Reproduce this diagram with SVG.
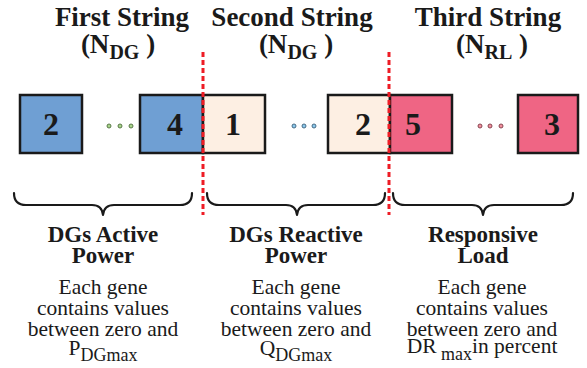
<svg xmlns="http://www.w3.org/2000/svg" width="587" height="368" viewBox="0 0 587 368">
  <style>
    text { font-family: "Liberation Serif", Tinos, "Times New Roman", "DejaVu Serif", serif; fill: #1a1a1a; text-anchor: middle; }
    .title { font-weight: bold; font-size: 27px; }
    .sub { font-size: 20px; }
    .num { font-weight: bold; font-size: 32px; }
    .head { font-weight: bold; font-size: 23px; }
    .desc { font-size: 21.5px; }
    .dsub { font-size: 18px; }
    .box { stroke: #1a1a1a; stroke-width: 2.5; }
    .blue { fill: #6f9fd3; }
    .peach { fill: #fdefe3; }
    .pink { fill: #ef6584; }
    .brace { fill: none; stroke: #1a1a1a; stroke-width: 2.2; stroke-linecap: round; stroke-linejoin: round; }
    .split { stroke: #ee1c25; stroke-width: 3; stroke-dasharray: 5 3; }
    .dot { stroke-width: 0.9; }
  </style>

  <!-- string titles -->
  <g id="title-first">
    <text class="title" x="122" y="26">First String</text>
    <text class="title" x="118" y="53">(N<tspan class="sub" dy="6">DG</tspan><tspan dy="-6"> )</tspan></text>
  </g>
  <g id="title-second">
    <text class="title" x="292" y="26">Second String</text>
    <text class="title" x="296" y="53">(N<tspan class="sub" dy="6">DG</tspan><tspan dy="-6"> )</tspan></text>
  </g>
  <g id="title-third">
    <text class="title" x="488" y="26">Third String</text>
    <text class="title" x="492" y="53">(N<tspan class="sub" dy="6">RL</tspan><tspan dy="-6"> )</tspan></text>
  </g>

  <!-- genes -->
  <g id="gene-dg-2">
    <rect class="box blue" x="20" y="95" width="62" height="58"/>
    <text class="num" x="51" y="135">2</text>
  </g>
  <g id="gene-dg-4">
    <rect class="box blue" x="140" y="95" width="63" height="58"/>
    <text class="num" x="175" y="135">4</text>
  </g>
  <g id="gene-q-1">
    <rect class="box peach" x="203" y="95" width="62" height="58"/>
    <text class="num" x="233" y="135">1</text>
  </g>
  <g id="gene-q-2">
    <rect class="box peach" x="328" y="95" width="62" height="58"/>
    <text class="num" x="363" y="135">2</text>
  </g>
  <g id="gene-rl-5">
    <rect class="box pink" x="390" y="95" width="62" height="58"/>
    <text class="num" x="413" y="135">5</text>
  </g>
  <g id="gene-rl-3">
    <rect class="box pink" x="518" y="95" width="60" height="58"/>
    <text class="num" x="552" y="135">3</text>
  </g>

  <!-- ellipses between genes -->
  <g id="dots-first" class="dot" fill="#a8d58a" stroke="#4d6b3c">
    <circle cx="109" cy="126" r="2"/>
    <circle cx="120" cy="126" r="2"/>
    <circle cx="131" cy="126" r="2"/>
  </g>
  <g id="dots-second" class="dot" fill="#8cc8ec" stroke="#3b5f78">
    <circle cx="294" cy="126" r="2"/>
    <circle cx="304" cy="126" r="2"/>
    <circle cx="314" cy="126" r="2"/>
  </g>
  <g id="dots-third" class="dot" fill="#f2909f" stroke="#7a3a44">
    <circle cx="480" cy="126" r="2"/>
    <circle cx="490" cy="126" r="2"/>
    <circle cx="501" cy="126" r="2"/>
  </g>

  <!-- connectors: string boundaries and braces -->
  <g id="connectors">
    <line class="split" x1="203" y1="52" x2="203" y2="215"/>
    <line class="split" x1="389" y1="52" x2="389" y2="215"/>
    <path class="brace" d="M14,193 Q14,205 26,205 L92,205 Q102,205 103,215 Q104,205 114,205 L180,205 Q192,205 192,193"/>
    <path class="brace" d="M207,193 Q207,205 219,205 L286,205 Q296,205 297,215 Q298,205 308,205 L373,205 Q385,205 385,193"/>
    <path class="brace" d="M393,193 Q393,205 405,205 L472,205 Q482,205 483,215 Q484,205 494,205 L561,205 Q573,205 573,193"/>
  </g>

  <!-- descriptions -->
  <g id="desc-active">
    <text class="head" x="103" y="242">DGs Active</text>
    <text class="head" x="103" y="263">Power</text>
    <text class="desc" x="103" y="294">Each gene</text>
    <text class="desc" x="103" y="315">contains values</text>
    <text class="desc" x="103" y="336">between zero and</text>
    <text class="desc" x="103" y="355">P<tspan class="dsub" dy="6">DGmax</tspan></text>
  </g>
  <g id="desc-reactive">
    <text class="head" x="296" y="242">DGs Reactive</text>
    <text class="head" x="296" y="263">Power</text>
    <text class="desc" x="296" y="294">Each gene</text>
    <text class="desc" x="296" y="315">contains values</text>
    <text class="desc" x="296" y="336">between zero and</text>
    <text class="desc" x="296" y="355">Q<tspan class="dsub" dy="6">DGmax</tspan></text>
  </g>
  <g id="desc-load">
    <text class="head" x="483" y="242">Responsive</text>
    <text class="head" x="483" y="263">Load</text>
    <text class="desc" x="482" y="294">Each gene</text>
    <text class="desc" x="482" y="315">contains values</text>
    <text class="desc" x="482" y="336">between zero and</text>
    <text class="desc" x="482" y="353">DR<tspan class="dsub" dy="7"> max</tspan><tspan dy="-7">in percent</tspan></text>
  </g>
</svg>
